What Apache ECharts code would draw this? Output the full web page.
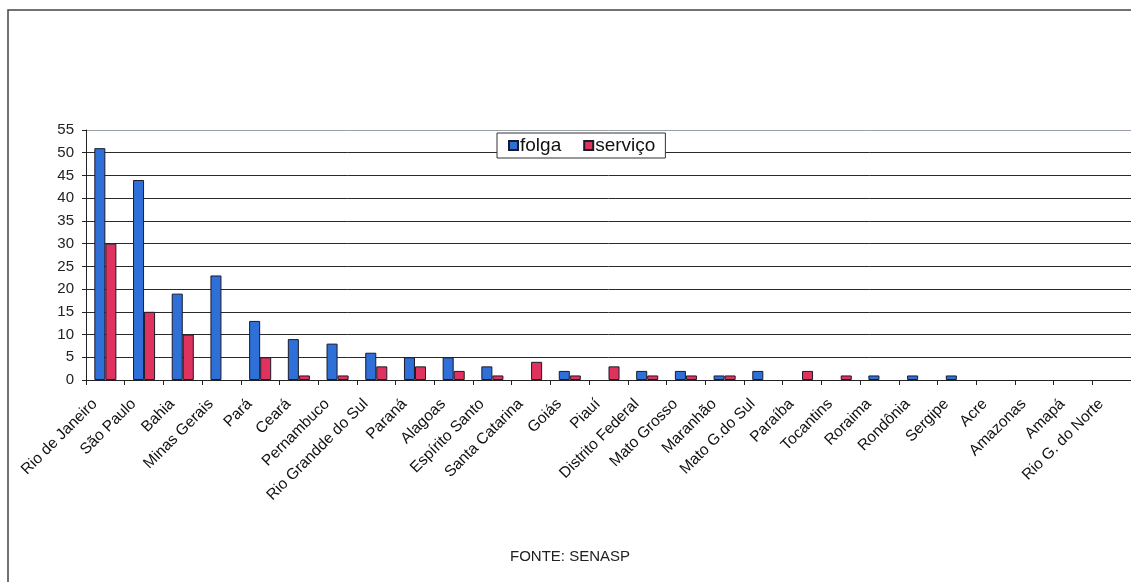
<!DOCTYPE html>
<html>
<head>
<meta charset="utf-8">
<script src="https://cdn.jsdelivr.net/npm/echarts@6/dist/echarts.min.js"></script>
<style>
html,body{margin:0;padding:0;background:#fff;}
#c{width:1131px;height:582px;}
</style>
</head>
<body>
<div id="c"></div>
<script>
const categories = ["Rio de Janeiro","São Paulo","Bahia","Minas Gerais","Pará","Ceará","Pernambuco","Rio Grandde do Sul","Paraná","Alagoas","Espírito Santo","Santa Catarina","Goiás","Piauí","Distrito Federal","Mato Grosso","Maranhão","Mato G.do Sul","Paraíba","Tocantins","Roraima","Rondônia","Sergipe","Acre","Amazonas","Amapá","Rio G. do Norte"];
const folga =   [51,44,19,23,13,9,8,6,5,5,3,0,2,0,2,2,1,2,0,0,1,1,1,0,0,0,0];
const servico = [30,15,10,0,5,1,1,3,3,2,1,4,1,3,1,1,1,0,2,1,0,0,0,0,0,0,0];
const seriesNames = ["folga","serviço"];
const sourceText = "FONTE: SENASP";

// zero-height bars are not drawn in the original (no outline)
const hideZero = arr => arr.map(v => (v === 0 ? null : v));

const chart = echarts.init(document.getElementById('c'));
const font = "Liberation Sans, Arial, sans-serif";
const gridColors = [];
for (let i = 0; i < 11; i++) gridColors.push('#2a2a2a');
gridColors.push('#9aa0a8');
chart.setOption({
  animation: false,
  backgroundColor: '#fff',
  textStyle: {fontFamily: font},
  graphic: [
    {type: 'rect', shape: {x: 8, y: 10, width: 1200, height: 700}, style: {fill: 'none', stroke: '#444', lineWidth: 1.5}, silent: true},
    {type: 'text', left: 510, top: 549, style: {text: sourceText, font: '15px ' + font, fill: '#222'}}
  ],
  legend: {
    left: 497, top: 133,
    padding: [3, 10, 3, 11],
    backgroundColor: '#fff',
    borderColor: '#333', borderWidth: 1,
    itemWidth: 9, itemHeight: 9, itemGap: 22,
    icon: 'rect',
    textStyle: {fontSize: 19, color: '#111', fontFamily: font, padding: [0,0,0,-3]},
    data: seriesNames
  },
  grid: {left: 86, top: 130, width: 1050, height: 250, containLabel: false},
  xAxis: {
    type: 'category', data: categories,
    axisLine: {lineStyle: {color: '#222', width: 1}},
    axisTick: {show: true, length: 5, lineStyle: {color: '#222'}},
    axisLabel: {rotate: 45, interval: 0, fontSize: 15.5, color: '#111', margin: 11, padding: [0, 15, 0, 0], fontFamily: font}
  },
  yAxis: {
    type: 'value', min: 0, max: 55, interval: 5,
    axisLine: {show: true, lineStyle: {color: '#222'}},
    axisTick: {show: true, length: 4, lineStyle: {color: '#222'}},
    axisLabel: {fontSize: 15, color: '#222', margin: 12, fontFamily: font},
    splitLine: {show: true, lineStyle: {color: gridColors, width: 1}}
  },
  series: [
    {name: seriesNames[0], type: 'bar', data: hideZero(folga), barGap: '0%', barCategoryGap: '43%',
     itemStyle: {color: '#2f6fd8', borderColor: '#1a1a2a', borderWidth: 1}},
    {name: seriesNames[1], type: 'bar', data: hideZero(servico),
     itemStyle: {color: '#e0325e', borderColor: '#1a1a2a', borderWidth: 1}}
  ]
});
</script>
</body>
</html>
